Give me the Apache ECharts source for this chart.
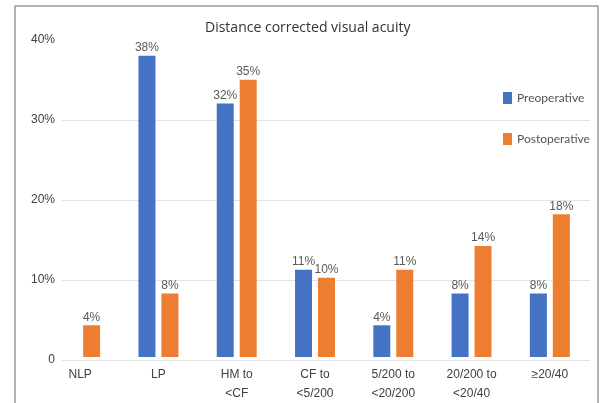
<!DOCTYPE html>
<html>
<head>
<meta charset="utf-8">
<script src="https://cdn.jsdelivr.net/npm/echarts@6/dist/echarts.min.js"></script>
<style>
  html, body { margin: 0; padding: 0; background: #fff; }
  #chart { width: 601px; height: 403px; }
</style>
</head>
<body>
<div id="chart"></div>
<script>
// Distance corrected visual acuity, share of eyes per acuity band
const categories = ['NLP', 'LP', 'HM to\n<CF', 'CF to\n<5/200', '5/200 to\n<20/200', '20/200 to\n<20/40', '\u226520/40'];
const preoperative = [null, 38, 32, 11, 4, 8, 8];
const postoperative = [4, 8, 35, 10, 11, 14, 18];
const yTicks = { min: 0, max: 40, interval: 10 };

const chart = echarts.init(document.getElementById('chart'));
const labelStyle = {
  show: true,
  position: 'top',
  distance: 2,
  color: '#595959',
  fontFamily: 'Liberation Sans, Arial, sans-serif',
  fontSize: 12,
  formatter: p => p.value + '%'
};

chart.setOption({
  animation: false,
  title: {
    text: 'Distance corrected visual acuity',
    left: 205,
    top: 21,
    padding: 0,
    textStyle: { fontFamily: 'Open Sans, sans-serif', fontSize: 14, fontWeight: 'normal', color: '#333' }
  },
  legend: {
    orient: 'vertical',
    left: 503,
    top: 92,
    padding: 0,
    itemWidth: 9,
    itemHeight: 12,
    itemGap: 29,
    icon: 'rect',
    textStyle: { fontFamily: 'Lato, sans-serif', fontSize: 12, color: '#555' },
    data: ['Preoperative', 'Postoperative']
  },
  graphic: [{
    type: 'rect',
    shape: { x: 15, y: 6, width: 583, height: 430 },
    style: { fill: 'none', stroke: '#9a9a9a', lineWidth: 1.5 },
    silent: true
  }],
  grid: [
    { left: 41, right: 12, top: 40, bottom: 43 },
    { left: 62, right: 11, top: 40, bottom: 43 }
  ],
  xAxis: [{
    type: 'category',
    gridIndex: 0,
    data: categories,
    axisLine: { show: false },
    axisTick: { show: false },
    axisLabel: {
      margin: 8,
      color: '#404040',
      fontFamily: 'Liberation Sans, Arial, sans-serif',
      fontSize: 12,
      lineHeight: 19,
      interval: 0
    }
  }, {
    type: 'value',
    gridIndex: 1,
    show: false,
    min: 0,
    max: 1
  }],
  yAxis: [{
    type: 'value',
    gridIndex: 0,
    min: yTicks.min,
    max: yTicks.max,
    interval: yTicks.interval,
    show: false
  }, {
    type: 'value',
    gridIndex: 1,
    min: yTicks.min,
    max: yTicks.max,
    interval: yTicks.interval,
    axisLine: { show: false },
    axisTick: { show: false },
    splitLine: { show: true, showMaxLine: false, lineStyle: { color: '#e3e3e3', width: 1 } },
    axisLabel: {
      margin: 7,
      color: '#404040',
      fontFamily: 'Liberation Sans, Arial, sans-serif',
      fontSize: 12,
      formatter: v => v === 0 ? '0' : v + '%'
    }
  }],
  series: [{
    name: 'Preoperative',
    type: 'bar',
    xAxisIndex: 0,
    yAxisIndex: 0,
    data: preoperative,
    barWidth: 17,
    barGap: '35%',
    itemStyle: { color: '#4472C4' },
    label: labelStyle
  }, {
    name: 'Postoperative',
    type: 'bar',
    xAxisIndex: 0,
    yAxisIndex: 0,
    data: postoperative,
    barWidth: 17,
    barGap: '35%',
    itemStyle: { color: '#ED7D31' },
    label: labelStyle
  }]
});
</script>
</body>
</html>
